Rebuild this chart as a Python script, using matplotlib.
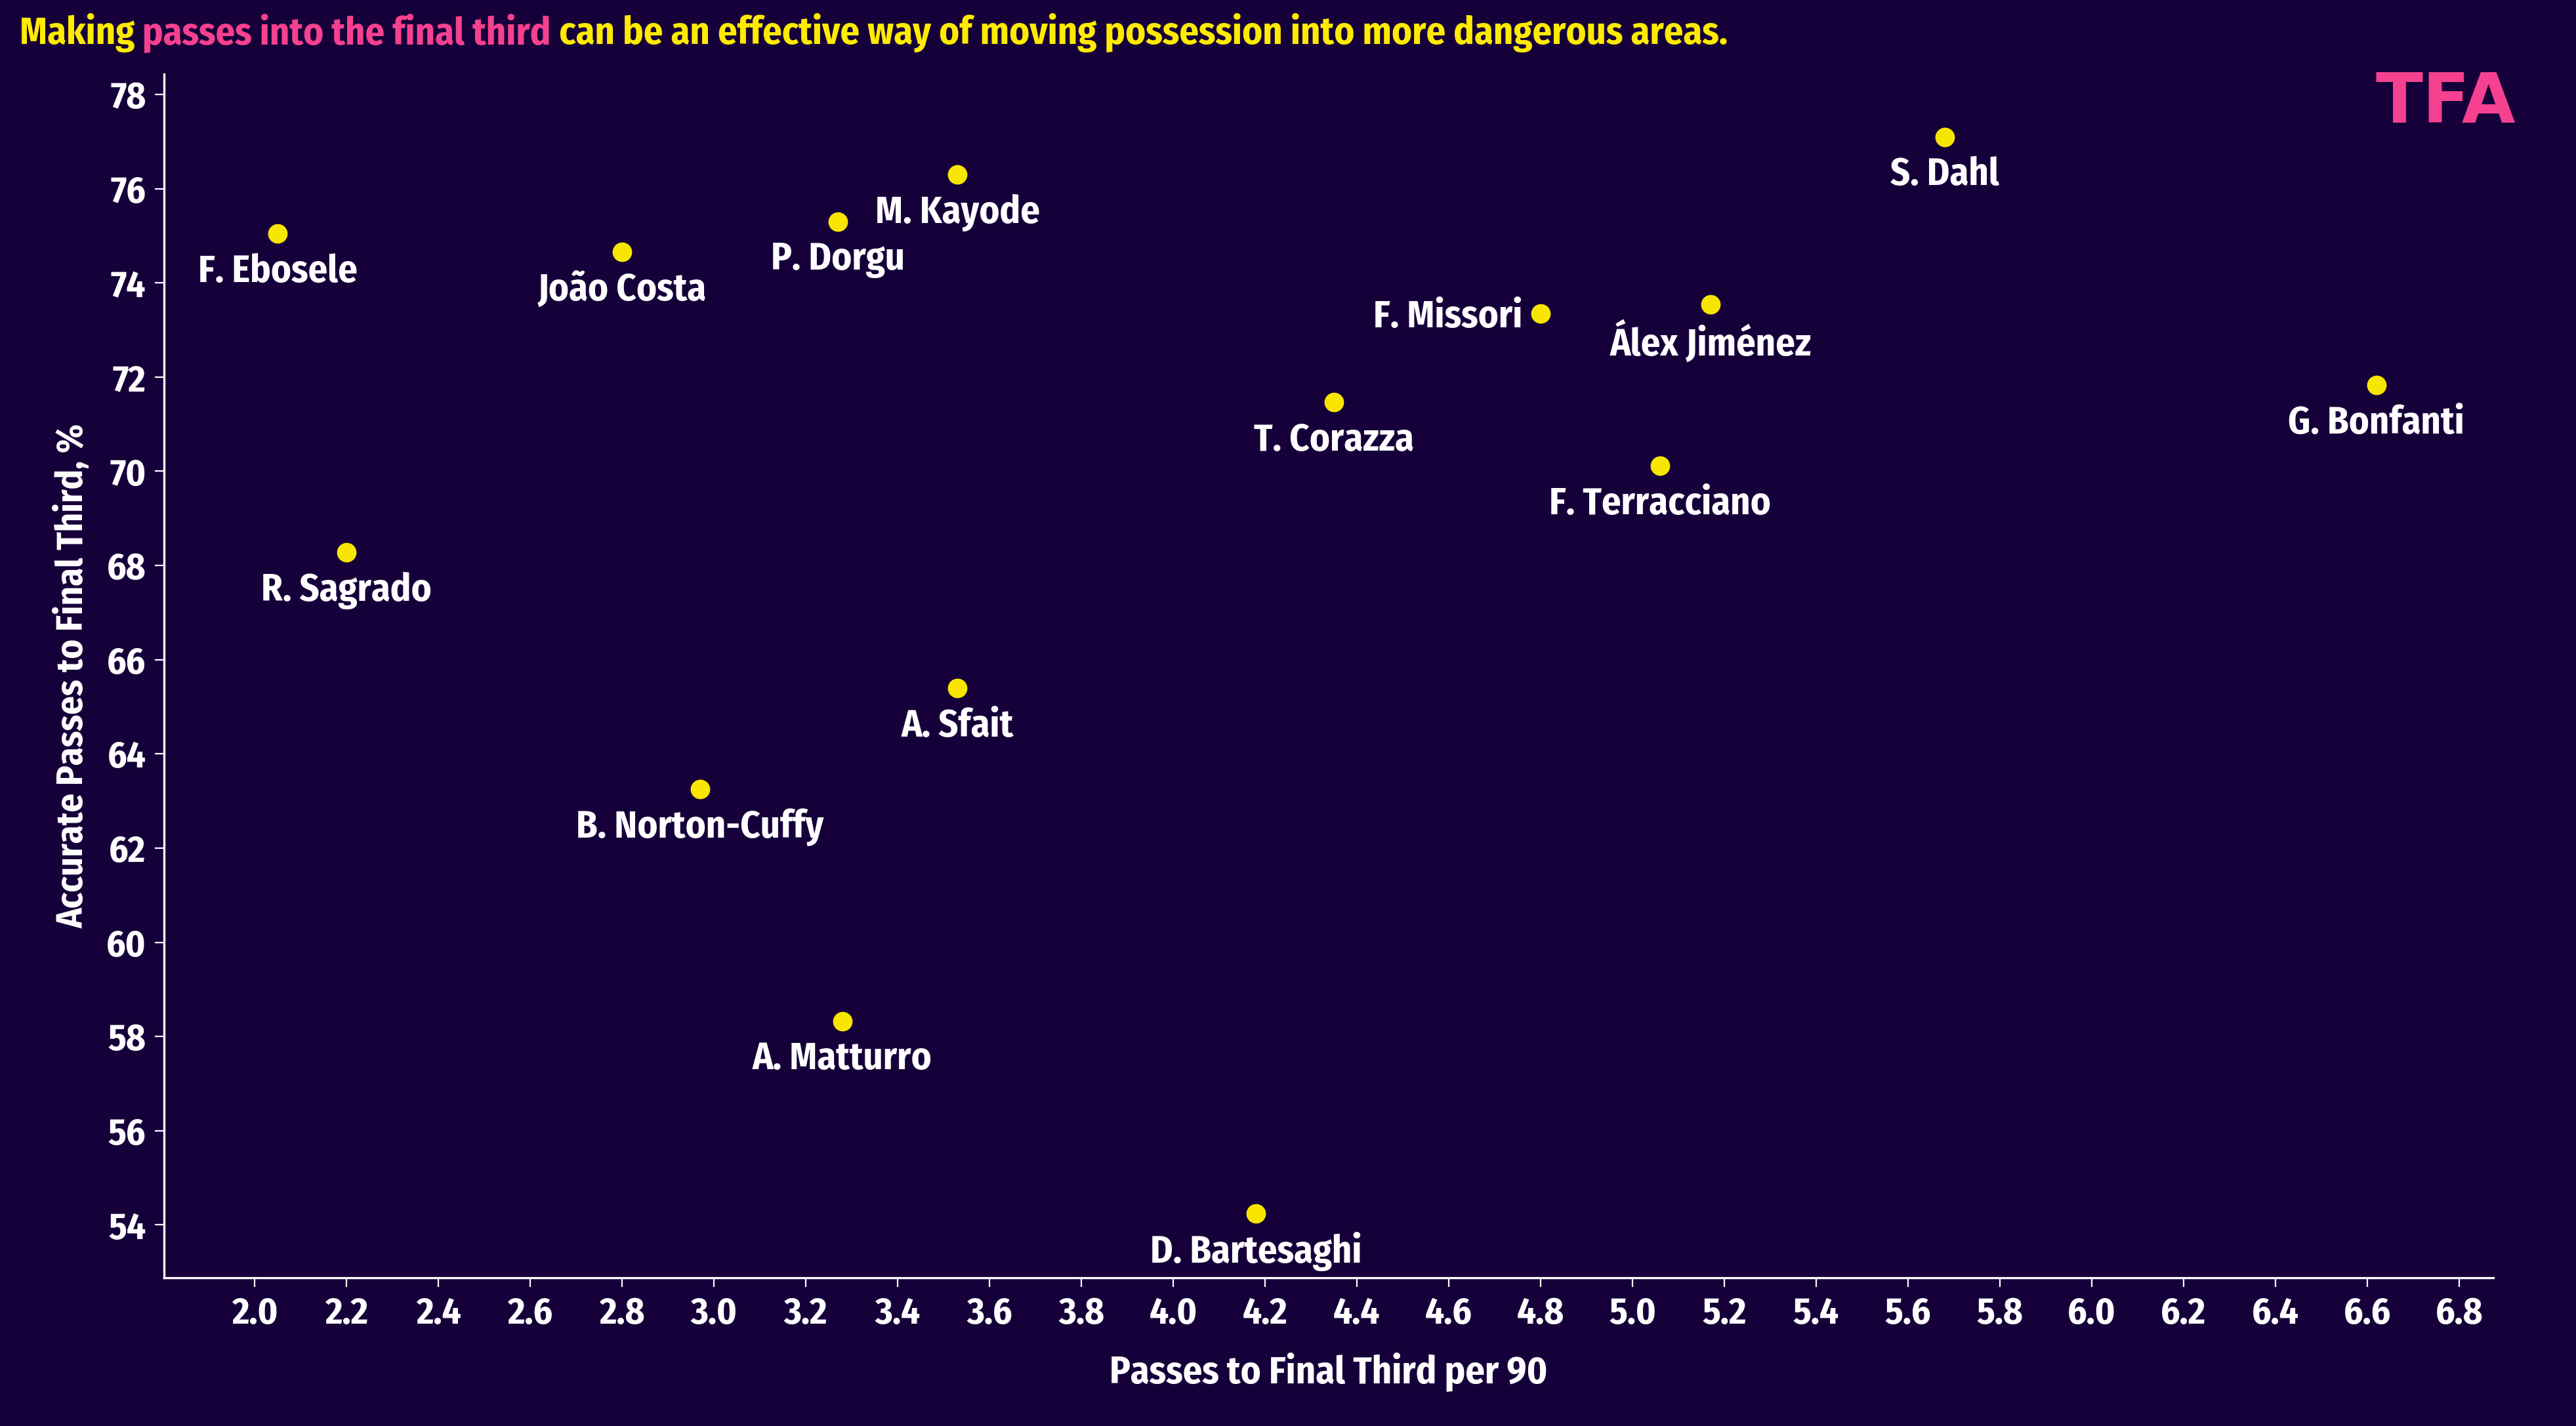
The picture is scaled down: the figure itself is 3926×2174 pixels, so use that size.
import matplotlib
matplotlib.use("Agg")
import matplotlib.pyplot as plt
from matplotlib import font_manager

names = ["F. Ebosele", "R. Sagrado", "João Costa", "B. Norton-Cuffy", "P. Dorgu",
         "A. Matturro", "M. Kayode", "A. Sfait", "D. Bartesaghi", "T. Corazza",
         "F. Missori", "F. Terracciano", "Álex Jiménez", "S. Dahl", "G. Bonfanti"]
passes_p90 = [2.05, 2.20, 2.80, 2.97, 3.27, 3.28, 3.53, 3.53, 4.18, 4.35,
              4.80, 5.06, 5.17, 5.68, 6.62]
accuracy = [75.04, 68.28, 74.66, 63.25, 75.30, 58.33, 76.30, 65.40, 54.25, 71.47,
            73.35, 70.12, 73.55, 77.10, 71.83]
xticks = [2.0, 2.2, 2.4, 2.6, 2.8, 3.0, 3.2, 3.4, 3.6, 3.8, 4.0, 4.2, 4.4, 4.6,
          4.8, 5.0, 5.2, 5.4, 5.6, 5.8, 6.0, 6.2, 6.4, 6.6, 6.8]
yticks = [54, 56, 58, 60, 62, 64, 66, 68, 70, 72, 74, 76, 78]
left_labels = ["F. Missori"]
title_parts = ["Making ", "passes into the final third",
               " can be an effective way of moving possession into more dangerous areas."]

BG = "#160039"
YEL = "#F8E600"
TITLE_YEL = "#FFEB00"
PINK = "#F5418F"
WHITE = "#FFFFFF"
title_colors = [TITLE_YEL, PINK, TITLE_YEL]

avail = {f.name for f in font_manager.fontManager.ttflist}
FAM = [f for f in ["Fira Sans Condensed", "Roboto Condensed", "Open Sans Condensed",
                   "Liberation Sans Narrow", "Open Sans", "DejaVu Sans"] if f in avail]
plt.rcParams["font.family"] = FAM

fig = plt.figure(figsize=(19.63, 10.87), dpi=200, facecolor=BG)
ax = fig.add_axes([0.0637, 0.104, 0.968 - 0.0637, 0.948 - 0.104])
ax.set_facecolor(BG)
ax.scatter(passes_p90, accuracy, s=115, color=YEL, zorder=3, linewidths=0)

for n, x, y in zip(names, passes_p90, accuracy):
    if n in left_labels:
        ax.annotate(n, (x, y), xytext=(-10, -2), textcoords="offset points",
                    ha="right", va="center", color=WHITE, fontsize=21, fontweight="bold")
    else:
        ax.annotate(n, (x, y), xytext=(0, -21), textcoords="offset points",
                    ha="center", va="center", color=WHITE, fontsize=21, fontweight="bold")

ax.set_xlim(1.803, 6.875)
ax.set_ylim(52.88, 78.43)
ax.set_xticks(xticks)
ax.set_xticklabels([f"{t:.1f}" for t in xticks])
ax.set_yticks(yticks)
for s in ["top", "right"]:
    ax.spines[s].set_visible(False)
for s in ["left", "bottom"]:
    ax.spines[s].set_color(WHITE)
    ax.spines[s].set_linewidth(1.2)
ax.tick_params(colors=WHITE, labelcolor=WHITE, labelsize=20.5, length=5, width=0.8, pad=5)
for lab in ax.get_xticklabels() + ax.get_yticklabels():
    lab.set_fontweight("bold")

ax.set_xlabel("Passes to Final Third per 90", color=WHITE, fontsize=21,
              fontweight="bold", labelpad=11)
ax.set_ylabel("Accurate Passes to Final Third, %", color=WHITE, fontsize=20.3,
              fontweight="bold", labelpad=8)

prev = fig.text(0.0076, 0.977, title_parts[0], color=title_colors[0], fontsize=21,
                fontweight="bold", ha="left", va="center")
for txt, col in zip(title_parts[1:], title_colors[1:]):
    prev = ax.annotate(txt, xy=(1, 0.5), xycoords=prev, va="center", ha="left",
                       color=col, fontsize=21, fontweight="bold", annotation_clip=False)

fig.text(0.9765, 0.914, "TFA", color=PINK, fontsize=38, fontweight="heavy",
         family=["DejaVu Sans"], ha="right", va="baseline")

fig.savefig("out.png", dpi=200, facecolor=BG)
